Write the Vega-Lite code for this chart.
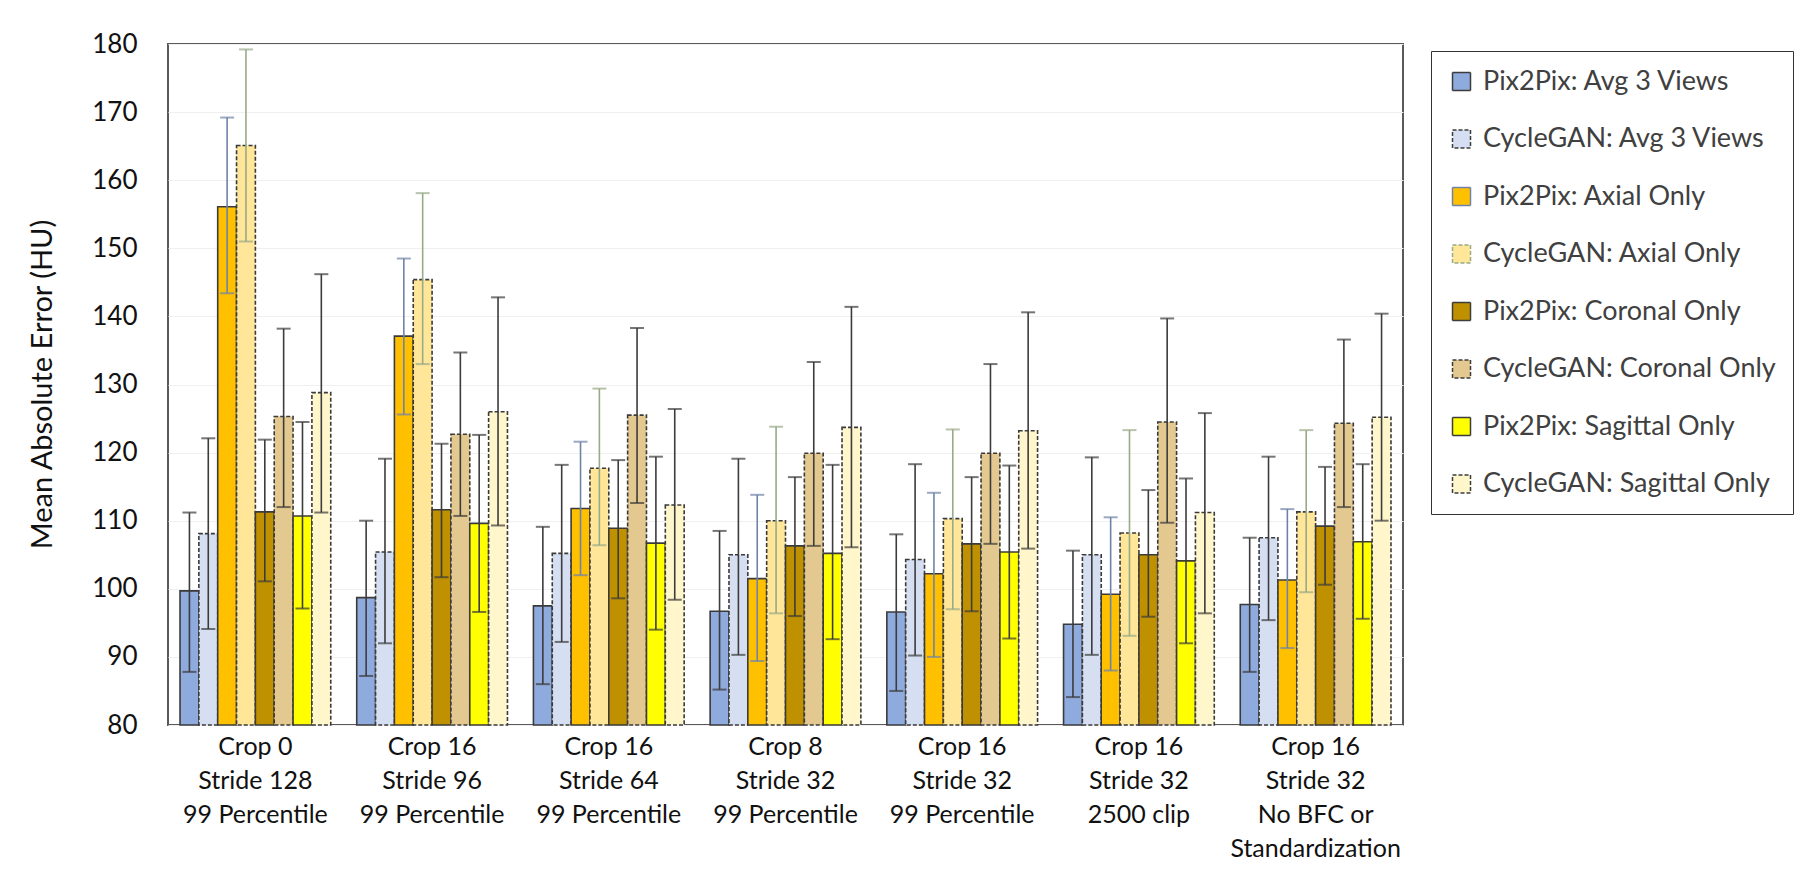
{
  "$schema": "https://vega.github.io/schema/vega-lite/v6.json",
  "width": 1235,
  "height": 681,
  "autosize": {"type": "none"},
  "padding": {"left": 168, "top": 44, "right": 397, "bottom": 148},
  "background": "white",
  "config": {
    "font": "Lato",
    "view": {"stroke": "#595959", "strokeWidth": 2},
    "axis": {"labelFont": "Lato", "titleFont": "Lato"},
    "legend": {"labelFont": "Lato"}
  },
  "data": {
    "values": [
      {"g": "Crop 0|Stride 128|99 Percentile", "s": "Pix2Pix: Avg 3 Views", "m": 99.7, "lo": 87.8, "hi": 111.2},
      {"g": "Crop 0|Stride 128|99 Percentile", "s": "CycleGAN: Avg 3 Views", "m": 108.1, "lo": 94.1, "hi": 122.1},
      {"g": "Crop 0|Stride 128|99 Percentile", "s": "Pix2Pix: Axial Only", "m": 156.1, "lo": 143.4, "hi": 169.2},
      {"g": "Crop 0|Stride 128|99 Percentile", "s": "CycleGAN: Axial Only", "m": 165.1, "lo": 151.0, "hi": 179.2},
      {"g": "Crop 0|Stride 128|99 Percentile", "s": "Pix2Pix: Coronal Only", "m": 111.3, "lo": 101.1, "hi": 121.9},
      {"g": "Crop 0|Stride 128|99 Percentile", "s": "CycleGAN: Coronal Only", "m": 125.3, "lo": 112.0, "hi": 138.2},
      {"g": "Crop 0|Stride 128|99 Percentile", "s": "Pix2Pix: Sagittal Only", "m": 110.7, "lo": 97.1, "hi": 124.5},
      {"g": "Crop 0|Stride 128|99 Percentile", "s": "CycleGAN: Sagittal Only", "m": 128.8, "lo": 111.2, "hi": 146.2},

      {"g": "Crop 16|Stride 96|99 Percentile", "s": "Pix2Pix: Avg 3 Views", "m": 98.7, "lo": 87.2, "hi": 110.0},
      {"g": "Crop 16|Stride 96|99 Percentile", "s": "CycleGAN: Avg 3 Views", "m": 105.4, "lo": 92.0, "hi": 119.1},
      {"g": "Crop 16|Stride 96|99 Percentile", "s": "Pix2Pix: Axial Only", "m": 137.1, "lo": 125.6, "hi": 148.5},
      {"g": "Crop 16|Stride 96|99 Percentile", "s": "CycleGAN: Axial Only", "m": 145.4, "lo": 133.0, "hi": 158.1},
      {"g": "Crop 16|Stride 96|99 Percentile", "s": "Pix2Pix: Coronal Only", "m": 111.6, "lo": 101.7, "hi": 121.3},
      {"g": "Crop 16|Stride 96|99 Percentile", "s": "CycleGAN: Coronal Only", "m": 122.7, "lo": 110.7, "hi": 134.7},
      {"g": "Crop 16|Stride 96|99 Percentile", "s": "Pix2Pix: Sagittal Only", "m": 109.6, "lo": 96.6, "hi": 122.6},
      {"g": "Crop 16|Stride 96|99 Percentile", "s": "CycleGAN: Sagittal Only", "m": 126.0, "lo": 109.3, "hi": 142.8},

      {"g": "Crop 16|Stride 64|99 Percentile", "s": "Pix2Pix: Avg 3 Views", "m": 97.5, "lo": 86.0, "hi": 109.1},
      {"g": "Crop 16|Stride 64|99 Percentile", "s": "CycleGAN: Avg 3 Views", "m": 105.2, "lo": 92.2, "hi": 118.2},
      {"g": "Crop 16|Stride 64|99 Percentile", "s": "Pix2Pix: Axial Only", "m": 111.8, "lo": 102.0, "hi": 121.6},
      {"g": "Crop 16|Stride 64|99 Percentile", "s": "CycleGAN: Axial Only", "m": 117.7, "lo": 106.4, "hi": 129.4},
      {"g": "Crop 16|Stride 64|99 Percentile", "s": "Pix2Pix: Coronal Only", "m": 108.9, "lo": 98.6, "hi": 118.9},
      {"g": "Crop 16|Stride 64|99 Percentile", "s": "CycleGAN: Coronal Only", "m": 125.5, "lo": 112.6, "hi": 138.3},
      {"g": "Crop 16|Stride 64|99 Percentile", "s": "Pix2Pix: Sagittal Only", "m": 106.7, "lo": 94.0, "hi": 119.4},
      {"g": "Crop 16|Stride 64|99 Percentile", "s": "CycleGAN: Sagittal Only", "m": 112.3, "lo": 98.4, "hi": 126.4},

      {"g": "Crop 8|Stride 32|99 Percentile", "s": "Pix2Pix: Avg 3 Views", "m": 96.7, "lo": 85.2, "hi": 108.5},
      {"g": "Crop 8|Stride 32|99 Percentile", "s": "CycleGAN: Avg 3 Views", "m": 105.0, "lo": 90.3, "hi": 119.1},
      {"g": "Crop 8|Stride 32|99 Percentile", "s": "Pix2Pix: Axial Only", "m": 101.5, "lo": 89.4, "hi": 113.8},
      {"g": "Crop 8|Stride 32|99 Percentile", "s": "CycleGAN: Axial Only", "m": 110.0, "lo": 96.4, "hi": 123.8},
      {"g": "Crop 8|Stride 32|99 Percentile", "s": "Pix2Pix: Coronal Only", "m": 106.3, "lo": 96.0, "hi": 116.4},
      {"g": "Crop 8|Stride 32|99 Percentile", "s": "CycleGAN: Coronal Only", "m": 119.9, "lo": 106.3, "hi": 133.3},
      {"g": "Crop 8|Stride 32|99 Percentile", "s": "Pix2Pix: Sagittal Only", "m": 105.2, "lo": 92.6, "hi": 118.2},
      {"g": "Crop 8|Stride 32|99 Percentile", "s": "CycleGAN: Sagittal Only", "m": 123.7, "lo": 106.1, "hi": 141.4},

      {"g": "Crop 16|Stride 32|99 Percentile", "s": "Pix2Pix: Avg 3 Views", "m": 96.6, "lo": 85.0, "hi": 108.0},
      {"g": "Crop 16|Stride 32|99 Percentile", "s": "CycleGAN: Avg 3 Views", "m": 104.3, "lo": 90.2, "hi": 118.3},
      {"g": "Crop 16|Stride 32|99 Percentile", "s": "Pix2Pix: Axial Only", "m": 102.2, "lo": 90.0, "hi": 114.1},
      {"g": "Crop 16|Stride 32|99 Percentile", "s": "CycleGAN: Axial Only", "m": 110.3, "lo": 97.0, "hi": 123.4},
      {"g": "Crop 16|Stride 32|99 Percentile", "s": "Pix2Pix: Coronal Only", "m": 106.6, "lo": 96.7, "hi": 116.4},
      {"g": "Crop 16|Stride 32|99 Percentile", "s": "CycleGAN: Coronal Only", "m": 119.9, "lo": 106.6, "hi": 133.0},
      {"g": "Crop 16|Stride 32|99 Percentile", "s": "Pix2Pix: Sagittal Only", "m": 105.4, "lo": 92.7, "hi": 118.1},
      {"g": "Crop 16|Stride 32|99 Percentile", "s": "CycleGAN: Sagittal Only", "m": 123.2, "lo": 105.9, "hi": 140.6},

      {"g": "Crop 16|Stride 32|2500 clip", "s": "Pix2Pix: Avg 3 Views", "m": 94.8, "lo": 84.1, "hi": 105.6},
      {"g": "Crop 16|Stride 32|2500 clip", "s": "CycleGAN: Avg 3 Views", "m": 105.0, "lo": 90.3, "hi": 119.3},
      {"g": "Crop 16|Stride 32|2500 clip", "s": "Pix2Pix: Axial Only", "m": 99.2, "lo": 88.0, "hi": 110.5},
      {"g": "Crop 16|Stride 32|2500 clip", "s": "CycleGAN: Axial Only", "m": 108.2, "lo": 93.1, "hi": 123.3},
      {"g": "Crop 16|Stride 32|2500 clip", "s": "Pix2Pix: Coronal Only", "m": 105.0, "lo": 95.9, "hi": 114.5},
      {"g": "Crop 16|Stride 32|2500 clip", "s": "CycleGAN: Coronal Only", "m": 124.5, "lo": 109.7, "hi": 139.7},
      {"g": "Crop 16|Stride 32|2500 clip", "s": "Pix2Pix: Sagittal Only", "m": 104.1, "lo": 92.0, "hi": 116.2},
      {"g": "Crop 16|Stride 32|2500 clip", "s": "CycleGAN: Sagittal Only", "m": 111.2, "lo": 96.4, "hi": 125.8},

      {"g": "Crop 16|Stride 32|No BFC or|Standardization", "s": "Pix2Pix: Avg 3 Views", "m": 97.7, "lo": 87.8, "hi": 107.5},
      {"g": "Crop 16|Stride 32|No BFC or|Standardization", "s": "CycleGAN: Avg 3 Views", "m": 107.5, "lo": 95.4, "hi": 119.4},
      {"g": "Crop 16|Stride 32|No BFC or|Standardization", "s": "Pix2Pix: Axial Only", "m": 101.3, "lo": 91.3, "hi": 111.7},
      {"g": "Crop 16|Stride 32|No BFC or|Standardization", "s": "CycleGAN: Axial Only", "m": 111.3, "lo": 99.5, "hi": 123.3},
      {"g": "Crop 16|Stride 32|No BFC or|Standardization", "s": "Pix2Pix: Coronal Only", "m": 109.2, "lo": 100.6, "hi": 117.9},
      {"g": "Crop 16|Stride 32|No BFC or|Standardization", "s": "CycleGAN: Coronal Only", "m": 124.3, "lo": 112.0, "hi": 136.6},
      {"g": "Crop 16|Stride 32|No BFC or|Standardization", "s": "Pix2Pix: Sagittal Only", "m": 106.9, "lo": 95.6, "hi": 118.3},
      {"g": "Crop 16|Stride 32|No BFC or|Standardization", "s": "CycleGAN: Sagittal Only", "m": 125.2, "lo": 110.0, "hi": 140.4}
    ]
  },
  "encoding": {
    "x": {
      "field": "g", "type": "nominal", "sort": null,
      "scale": {"paddingInner": 0.147, "paddingOuter": 0.068},
      "axis": {
        "title": null, "ticks": false, "domain": false, "labelAngle": 0,
        "labelExpr": "split(datum.label, '|')",
        "labelFontSize": 25, "labelColor": "#111111", "labelPadding": 9,
        "labelLineHeight": 34, "labelBaseline": "top", "labelLimit": 400
      }
    },
    "xOffset": {
      "field": "s", "type": "nominal",
      "scale": {
        "paddingInner": 0, "paddingOuter": 0,
        "domain": ["Pix2Pix: Avg 3 Views", "CycleGAN: Avg 3 Views", "Pix2Pix: Axial Only", "CycleGAN: Axial Only", "Pix2Pix: Coronal Only", "CycleGAN: Coronal Only", "Pix2Pix: Sagittal Only", "CycleGAN: Sagittal Only"]
      }
    }
  },
  "layer": [
    {
      "mark": {"type": "bar", "stroke": "#3a3a3a", "strokeWidth": 1.6},
      "encoding": {
        "y": {
          "field": "m", "type": "quantitative",
          "scale": {"domain": [80, 180], "zero": false, "nice": false},
          "axis": {
            "title": "Mean Absolute Error (HU)", "values": [80, 90, 100, 110, 120, 130, 140, 150, 160, 170, 180],
            "ticks": false, "domain": false, "grid": true, "gridColor": "#f0f0f0",
            "labelFontSize": 26, "labelColor": "#111111", "labelPadding": 31,
            "titleFontSize": 29, "titleFontWeight": "normal", "titleColor": "#111111",
            "titleX": -126, "titleY": 340, "titleAngle": -90, "titleAlign": "center", "titleBaseline": "middle"
          }
        },
        "y2": {"datum": 80},
        "fill": {
          "field": "s", "type": "nominal",
          "scale": {
            "domain": ["Pix2Pix: Avg 3 Views", "CycleGAN: Avg 3 Views", "Pix2Pix: Axial Only", "CycleGAN: Axial Only", "Pix2Pix: Coronal Only", "CycleGAN: Coronal Only", "Pix2Pix: Sagittal Only", "CycleGAN: Sagittal Only"],
            "range": ["#8FAADC", "#D5DFF1", "#FFC000", "#FFE699", "#BF9000", "#E3C88F", "#FFFF00", "#FFF6CC"]
          },
          "legend": {
            "title": null, "orient": "none", "legendX": 1263, "legendY": 7,
            "padding": 17, "strokeColor": "#333333", "fillColor": "white",
            "symbolType": "square", "symbolSize": 324, "symbolStrokeColor": "#333333", "symbolStrokeWidth": 1.5,
            "labelFontSize": 27, "labelColor": "#404040", "labelOffset": 8, "rowPadding": 29.5, "labelLimit": 400
          }
        },
        "strokeDash": {
          "field": "s", "type": "nominal",
          "scale": {
            "domain": ["Pix2Pix: Avg 3 Views", "CycleGAN: Avg 3 Views", "Pix2Pix: Axial Only", "CycleGAN: Axial Only", "Pix2Pix: Coronal Only", "CycleGAN: Coronal Only", "Pix2Pix: Sagittal Only", "CycleGAN: Sagittal Only"],
            "range": [[1, 0], [4, 2], [1, 0], [4, 2], [1, 0], [4, 2], [1, 0], [4, 2]]
          },
          "legend": {
            "title": null, "orient": "none", "legendX": 1263, "legendY": 7,
            "padding": 17, "strokeColor": "#333333", "fillColor": "white",
            "symbolType": "square", "symbolSize": 324, "symbolStrokeColor": "#333333", "symbolStrokeWidth": 1.5,
            "labelFontSize": 27, "labelColor": "#404040", "labelOffset": 8, "rowPadding": 29.5, "labelLimit": 400
          }
        }
      }
    },
    {
      "mark": {"type": "rule", "strokeWidth": 1.6},
      "encoding": {
        "y": {"field": "lo", "type": "quantitative"},
        "y2": {"field": "hi"},
        "color": {
          "field": "s", "type": "nominal", "legend": null,
          "scale": {
            "domain": ["Pix2Pix: Avg 3 Views", "CycleGAN: Avg 3 Views", "Pix2Pix: Axial Only", "CycleGAN: Axial Only", "Pix2Pix: Coronal Only", "CycleGAN: Coronal Only", "Pix2Pix: Sagittal Only", "CycleGAN: Sagittal Only"],
            "range": ["#3c3c3c", "#3c3c3c", "#6F83A8", "#98AA88", "#3c3c3c", "#3c3c3c", "#3c3c3c", "#3c3c3c"]
          }
        }
      }
    },
    {
      "mark": {"type": "tick", "size": 14, "thickness": 2},
      "encoding": {
        "y": {"field": "hi", "type": "quantitative"},
        "color": {"field": "s", "type": "nominal", "legend": null}
      }
    },
    {
      "mark": {"type": "tick", "size": 14, "thickness": 2},
      "encoding": {
        "y": {"field": "lo", "type": "quantitative"},
        "color": {"field": "s", "type": "nominal", "legend": null}
      }
    }
  ]
}
